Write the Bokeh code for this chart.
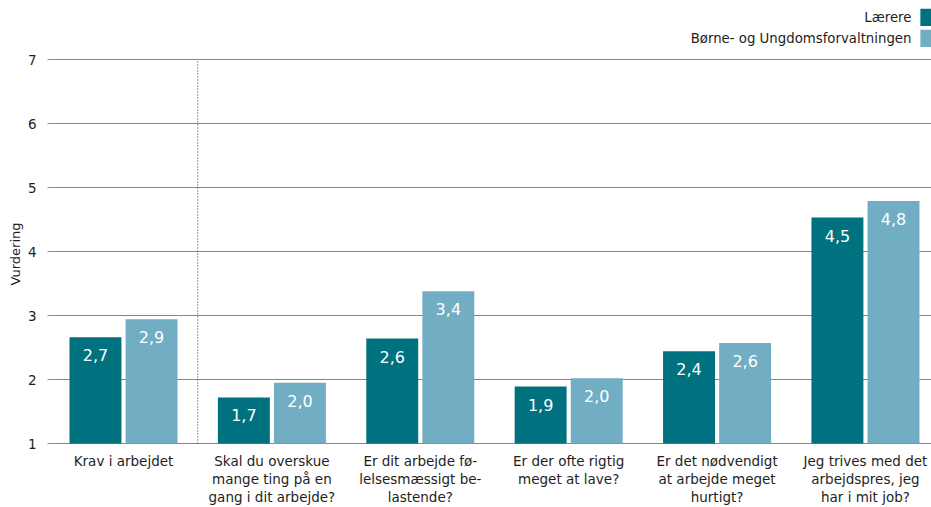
from bokeh.plotting import figure
from bokeh.models import Range1d, FixedTicker
from bokeh.core.properties import value
from bokeh.embed import file_html
from bokeh.resources import INLINE

# ---- data ----
categories = [
    "Krav i arbejdet",
    "Skal du overskue\nmange ting på en\ngang i dit arbejde?",
    "Er dit arbejde fø-\nlelsesmæssigt be-\nlastende?",
    "Er der ofte rigtig\nmeget at lave?",
    "Er det nødvendigt\nat arbejde meget\nhurtigt?",
    "Jeg trives med det\narbejdspres, jeg\nhar i mit job?",
]
series_names = ["Lærere", "Børne- og Ungdomsforvaltningen"]
laerere = [2.66, 1.72, 2.64, 1.89, 2.44, 4.53]
bufo = [2.94, 1.95, 3.38, 2.02, 2.57, 4.79]
laerere_labels = ["2,7", "1,7", "2,6", "1,9", "2,4", "4,5"]
bufo_labels = ["2,9", "2,0", "3,4", "2,0", "2,6", "4,8"]
y_ticks = [1, 2, 3, 4, 5, 6, 7]

# ---- style ----
FONT = "DejaVu Sans"
DARK = "#00717F"
LIGHT = "#71AEC4"
TEXT = "#1e1e1e"
GRID = "#858585"
BASE = 1
OFFSET = 0.189
BAR_W = 0.35

p = figure(width=931, height=507, output_backend="svg", toolbar_location=None,
           x_range=Range1d(-0.492, 5.445), y_range=Range1d(0.0, 7.922),
           x_axis_location=None, min_border_left=50, min_border_right=0,
           min_border_top=0, min_border_bottom=0)
p.outline_line_color = None
p.background_fill_color = "white"
p.xgrid.visible = False

ticker = FixedTicker(ticks=y_ticks)
p.yaxis.ticker = ticker
p.ygrid.ticker = ticker
p.ygrid.grid_line_color = GRID
p.ygrid.grid_line_width = 1
p.yaxis.axis_line_color = None
p.yaxis.major_tick_line_color = GRID
p.yaxis.major_tick_out = 3
p.yaxis.major_tick_in = 0
p.yaxis.minor_tick_line_color = None
p.yaxis.major_label_text_font = FONT
p.yaxis.major_label_text_font_size = "13.5px"
p.yaxis.major_label_text_color = TEXT
p.yaxis.major_label_standoff = 11
p.yaxis.axis_label = "Vurdering"
p.yaxis.axis_label_text_font = FONT
p.yaxis.axis_label_text_font_size = "13px"
p.yaxis.axis_label_text_font_style = "normal"
p.yaxis.axis_label_text_color = TEXT
p.yaxis.axis_label_standoff = 2

idx = list(range(len(categories)))
x_l = [i - OFFSET for i in idx]
x_b = [i + OFFSET for i in idx]

p.vbar(x=x_l, top=laerere, bottom=BASE, width=BAR_W, fill_color=DARK, line_color=None)
p.vbar(x=x_b, top=bufo, bottom=BASE, width=BAR_W, fill_color=LIGHT, line_color=None)

# separator after first group
p.segment(x0=[0.5], y0=[y_ticks[0]], x1=[0.5], y1=[y_ticks[-1]],
          line_color="#333333", line_dash="1 2", line_width=1)

# value labels
for xs, ys, labs in ((x_l, laerere, laerere_labels), (x_b, bufo, bufo_labels)):
    p.text(x=xs, y=ys, text=labs, text_color="white", text_align="center",
           text_baseline="middle", y_offset=18, text_font=value(FONT),
           text_font_size="16px")

# category labels
p.text(x=idx, y=[BASE] * len(idx), text=categories, text_color=TEXT,
       text_align="center", text_baseline="top", y_offset=9,
       text_line_height=1.14, text_font=value(FONT), text_font_size="13.5px")

# legend (text right, swatch at right edge)
LEG_TEXT_X = 5.31
LEG_SW_X = 5.43
LEG_Y = [7.66, 7.33]
p.text(x=[LEG_TEXT_X] * 2, y=LEG_Y, text=series_names, text_color=TEXT,
       text_align="right", text_baseline="middle", text_font=value(FONT),
       text_font_size="13.3px")
p.rect(x=[LEG_SW_X] * 2, y=LEG_Y, width=0.12, height=0.27,
       fill_color=[DARK, LIGHT], line_color=None)

open("out.html", "w").write(file_html(p, INLINE))
